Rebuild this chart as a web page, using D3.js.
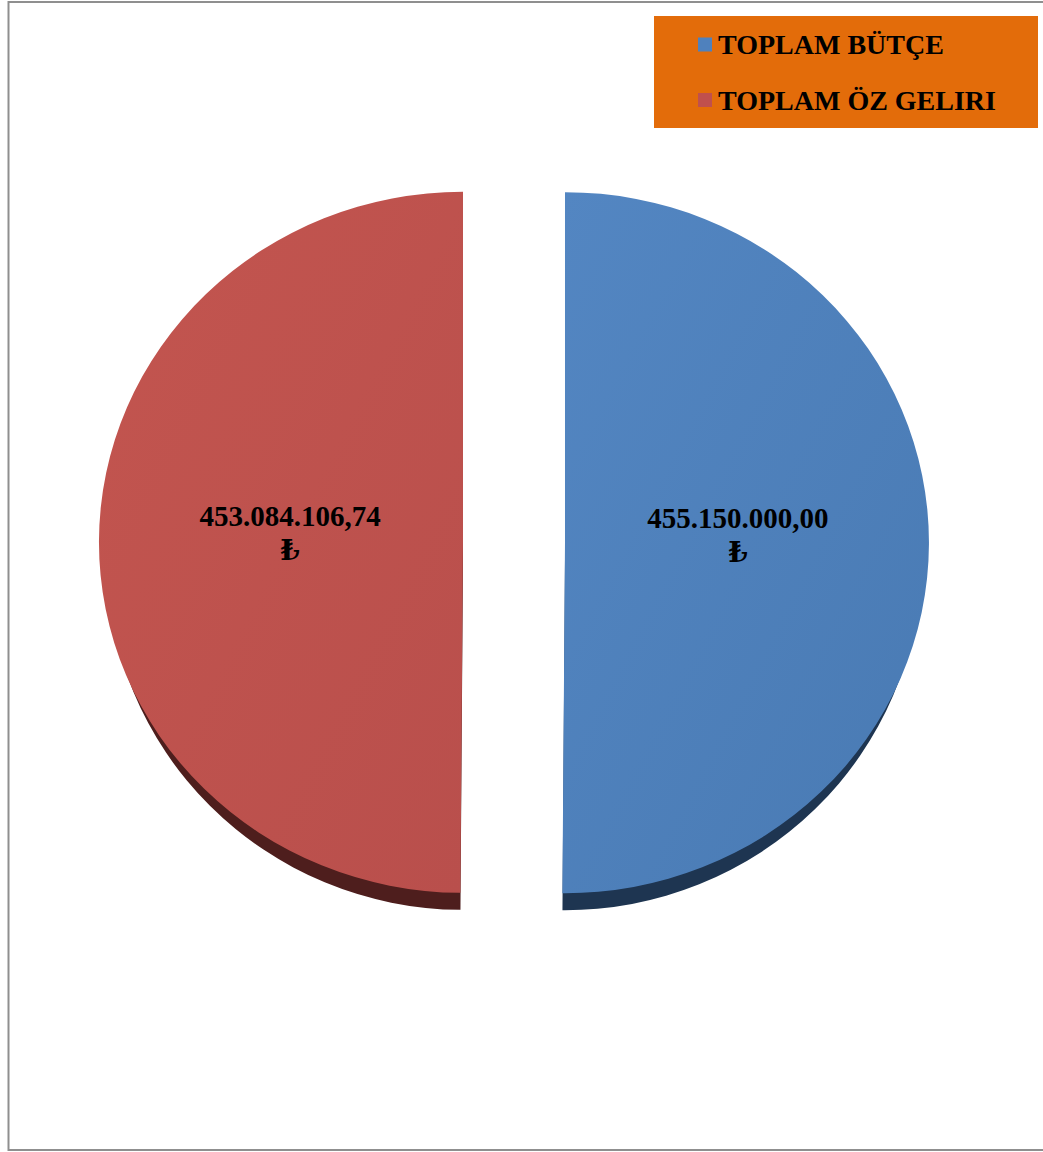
<!DOCTYPE html>
<html>
<head>
<meta charset="utf-8">
<script src="https://cdn.jsdelivr.net/npm/d3@7"></script>
<style>
  html, body { margin: 0; padding: 0; background: #fff; }
  svg { display: block; }
</style>
</head>
<body>
<script>
// Budget vs own revenue
const categories = ["TOPLAM BÜTÇE", "TOPLAM ÖZ GELIRI"];
const values = [455150000.00, 453084106.74];
const valueLabels = ["455.150.000,00", "453.084.106,74"];
const currency = "₺";

const W = 1043, H = 1152;
const colors = ["#4F81BD", "#C0504D"];
const lightColors = ["#5386C2", "#C3554F"];
const darkColors = ["#497AB3", "#B94F4C"];
const sideColors = ["#1E3551", "#4E1E1D"];

const cx = 514, cy = 542.5;
const rx = 364, ry = 350.5;
const depth = 17;
const wallInset = 8;   // bottom rim is a little narrower, so the wall only shows low down
const explode = 51;

const svg = d3.select("body").append("svg")
  .attr("width", W).attr("height", H);

const defs = svg.append("defs");
colors.forEach((c, i) => {
  const g = defs.append("linearGradient")
    .attr("id", "grad" + i)
    .attr("x1", "0%").attr("y1", "0%").attr("x2", "100%").attr("y2", "100%");
  g.append("stop").attr("offset", "0%").attr("stop-color", lightColors[i]);
  g.append("stop").attr("offset", "100%").attr("stop-color", darkColors[i]);
});

// chart frame
svg.append("rect")
  .attr("x", 8.5).attr("y", 2).attr("width", 1100).attr("height", 1148)
  .attr("fill", "none").attr("stroke", "#8f8f8f").attr("stroke-width", 2);

const pie = d3.pie().sort(null).value(d => d);
const arcs = pie(values);

const arc = d3.arc().innerRadius(0).outerRadius(rx);
const wallArc = d3.arc().innerRadius(0).outerRadius(rx - wallInset);
const labelR = rx * 0.475;
const labelArc = d3.arc().innerRadius(labelR).outerRadius(labelR);
const sy = ry / rx;
const wallSy = ry / (rx - wallInset);

const slices = svg.append("g").selectAll("g.slice")
  .data(arcs)
  .join("g")
  .attr("class", "slice")
  .attr("transform", d => {
    const mid = (d.startAngle + d.endAngle) / 2;
    const dx = explode * Math.sin(mid);
    const dy = -explode * Math.cos(mid) * sy;
    return `translate(${cx + dx},${cy + dy})`;
  });

// side wall: the sector pushed down by the pie thickness
slices.append("path")
  .attr("transform", `translate(0,${depth}) scale(1,${wallSy})`)
  .attr("d", wallArc)
  .attr("fill", (d, i) => sideColors[i]);

// top face
slices.append("path")
  .attr("transform", `scale(1,${sy})`)
  .attr("d", arc)
  .attr("fill", (d, i) => `url(#grad${i})`);

// value labels
slices.each(function(d, i) {
  const [lx, ly] = labelArc.centroid(d);
  const t = d3.select(this).append("text")
    .attr("text-anchor", "middle")
    .attr("font-family", "'Liberation Serif', 'Times New Roman', 'DejaVu Serif', serif")
    .attr("font-weight", "bold")
    .attr("font-size", 29)
    .attr("fill", "#000");
  t.append("tspan").attr("x", lx).attr("y", ly * sy - 15.5).text(valueLabels[i]);
  t.append("tspan").attr("x", lx).attr("y", ly * sy + 18.5)
    .attr("font-family", "'DejaVu Serif', 'Liberation Serif', serif")
    .attr("font-size", 28)
    .text(currency);
});

// legend
const legend = svg.append("g");
legend.append("rect")
  .attr("x", 654).attr("y", 16).attr("width", 384).attr("height", 112)
  .attr("fill", "#E36C0A");
const rowY = [44.5, 100];
categories.forEach((c, i) => {
  legend.append("rect")
    .attr("x", 698).attr("y", rowY[i] - 7).attr("width", 14).attr("height", 14)
    .attr("fill", colors[i]);
  legend.append("text")
    .attr("x", 718).attr("y", rowY[i] + 9.5)
    .attr("font-family", "'Liberation Serif', 'Times New Roman', serif")
    .attr("font-weight", "bold")
    .attr("font-size", 28)
    .attr("fill", "#000")
    .text(c);
});
</script>
</body>
</html>
